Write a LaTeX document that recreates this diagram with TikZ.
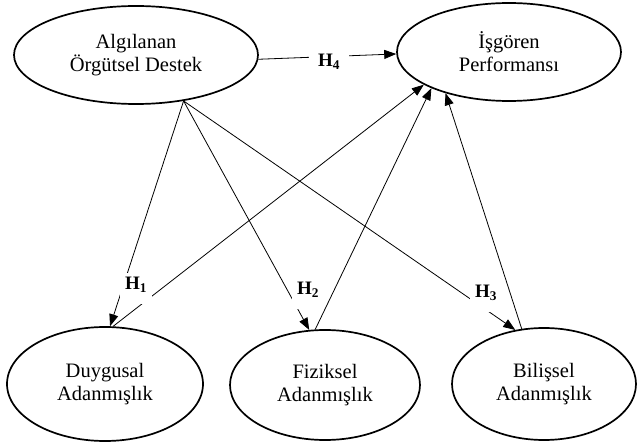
\documentclass[tikz,border=0pt]{standalone}
\usepackage{fontspec}
\setmainfont{Liberation Serif}
\usetikzlibrary{shapes.geometric,arrows.meta}
\begin{document}
\begin{tikzpicture}[x=1pt,y=-1pt,
  construct/.style={ellipse,draw,line width=1.7pt,inner sep=0pt,align=center,
    font=\fontsize{20.5}{23}\selectfont},
  conn/.style={line width=0.8pt,-{Triangle[length=12pt,width=9pt]}},
  hyp/.style={fill=white,inner xsep=5pt,inner ysep=3pt,text height=14pt,text depth=11pt,
    anchor=base,font=\fontsize{19}{21}\selectfont\bfseries}]
\useasboundingbox (0,0) rectangle (638,446);
\node[construct,minimum width=244pt,minimum height=98pt] (alg) at (136,55) {Algılanan\\Örgütsel Destek};
\node[construct,minimum width=224pt,minimum height=98pt] (isg) at (509,52) {İşgören\\Performansı};
\node[construct,minimum width=196pt,minimum height=114pt] (duy) at (105,384) {Duygusal\\Adanmışlık};
\node[construct,minimum width=190pt,minimum height=110pt] (fiz) at (325,385) {Fiziksel\\Adanmışlık};
\node[construct,minimum width=184pt,minimum height=112pt] (bil) at (544,384) {Bilişsel\\Adanmışlık};
\draw[conn] (alg.-2) -- (isg.181);
\draw[conn] (alg.-44) -- (duy.85);
\draw[conn] (alg.-44) -- (fiz.106);
\draw[conn] (alg.-44) -- (bil.118);
\draw[conn] (duy.82) -- (isg.-159);
\draw[conn] (fiz.100) -- (isg.-155);
\draw[conn] (bil.112) -- (isg.-147);
\node[hyp] (h1) at (136,290) {H\textsubscript{1}};
\node[hyp] (h2) at (308,295) {H\textsubscript{2}};
\node[hyp] (h3) at (486,298) {H\textsubscript{3}};
\node[hyp,inner xsep=9pt] (h4) at (329,67) {H\textsubscript{4}};
\end{tikzpicture}
\end{document}
